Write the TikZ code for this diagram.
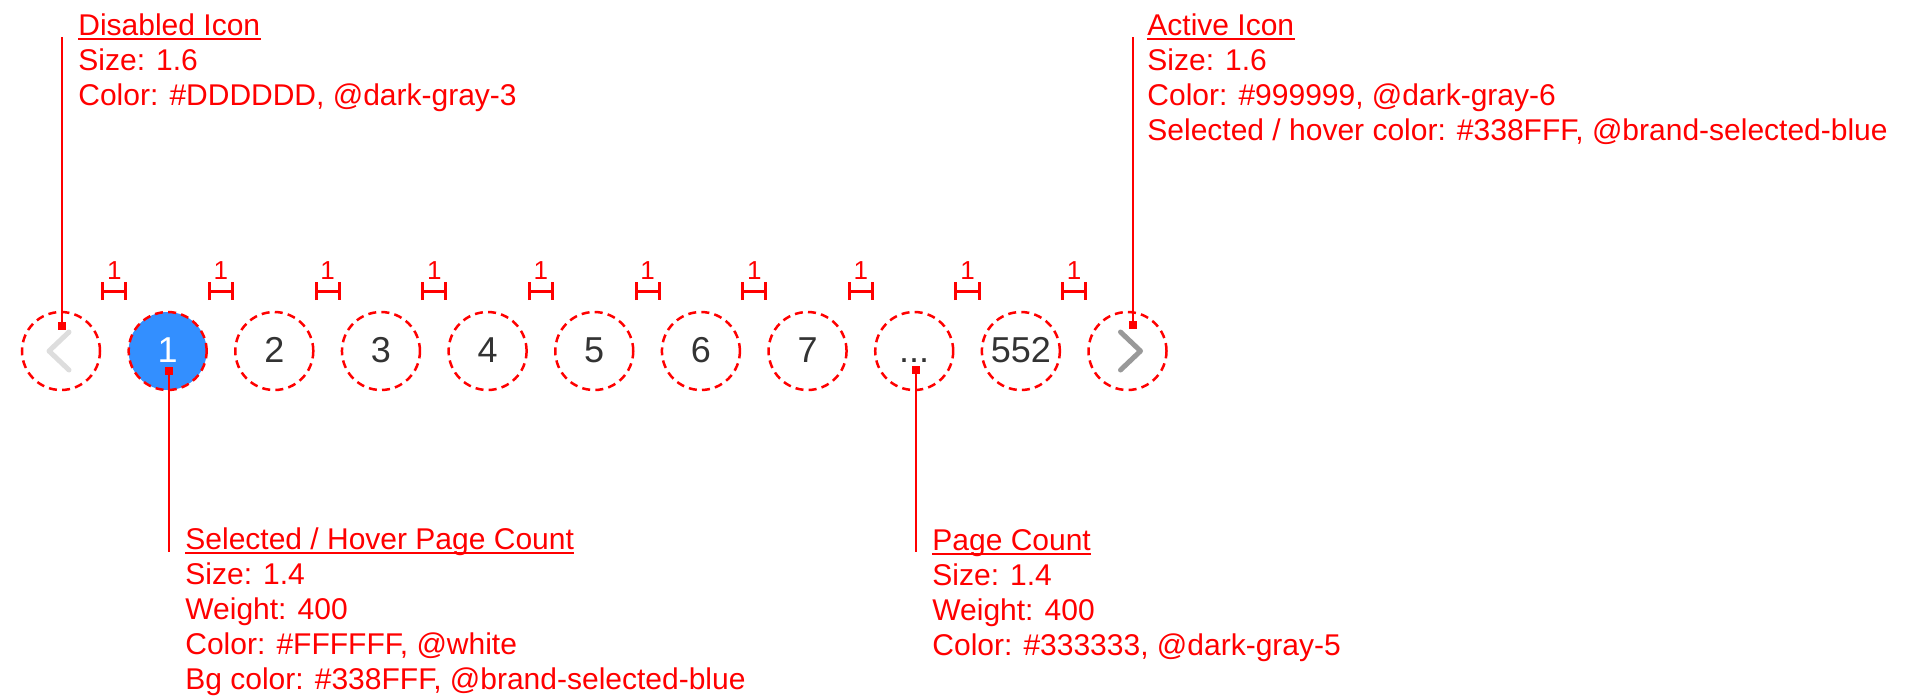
\documentclass[tikz,border=0pt]{standalone}
\usepackage{fontspec}
\setmainfont{Liberation Sans}
\usetikzlibrary{arrows.meta,calc}
\definecolor{annot}{HTML}{FF0000}
\definecolor{selblue}{HTML}{338FFF}
\definecolor{dgfive}{HTML}{333333}
\definecolor{dgthree}{HTML}{DDDDDD}
\definecolor{dgsix}{HTML}{999999}
\begin{document}
\begin{tikzpicture}[x=0.5pt,y=-0.5pt,
  page/.style={circle, minimum size=39pt, inner sep=0pt, draw=annot, line width=1.25pt, dash pattern=on 4pt off 2.6pt},
  num/.style={font=\fontsize{18}{20}\selectfont, text=dgfive, inner sep=0pt, anchor=base},
  lead/.style={draw=annot, line width=1.3pt},
  sq/.style={fill=annot, minimum size=3.8pt, inner sep=0pt},
  ann/.style={font=\fontsize{15}{18}\selectfont, text=annot, inner sep=0pt, anchor=base west},
  uline/.style={draw=annot, line width=0.9pt},
  dim/.style={draw=annot, line width=1.5pt, {Bar[width=9pt]}-{Bar[width=9pt]}},
  dimlab/.style={font=\fontsize{13}{15}\selectfont, text=annot, inner sep=0pt, anchor=base},
  chev/.style={line width=2.5pt, line cap=round, line join=round},
]
\useasboundingbox (0,0) rectangle (1914,698);
\coordinate (dimy) at (0,291);
\coordinate (basey) at (0,362);
% page circles
\node[page, fill=selblue] (c1) at (167.65,351) {};
\foreach \i in {0,2,3,4,5,6,7,8,9,10} {
  \pgfmathsetmacro\cx{61+106.65*\i}
  \node[page] (c\i) at (\cx,351) {};
}
% numbers
\node[num, text=white] (n1) at (c1 |- basey) {1};
\foreach \i in {2,3,4,5,6,7} {
  \node[num] (n\i) at (c\i |- basey) {\i};
}
\node[num] (n8) at (c8 |- basey) {...};
\node[num] (n9) at (c9 |- basey) {552};
% chevrons
\draw[chev, dgthree] ($(c0.center)+(8,-19)$) -- ($(c0.center)+(-12,0)$) -- ($(c0.center)+(8,19)$);
\draw[chev, dgsix] ($(c10.center)+(-7,-19)$) -- ($(c10.center)+(13,0)$) -- ($(c10.center)+(-7,19)$);
% spacing markers
\foreach \i in {0,...,9} {
  \pgfmathtruncatemacro\j{\i+1}
  \pgfmathsetmacro\mx{61+106.65*\i+53.325}
  \draw[dim] (c\i.east |- dimy) -- (c\j.west |- dimy);
  \node[dimlab] (d\i) at (\mx,279) {1};
}
% leaders
\node[sq] (s0) at (62,326) {};
\coordinate (t0) at (62,37);
\draw[lead] (s0.center) -- (t0);
\node[sq] (s1) at (169,371) {};
\coordinate (t1) at (169,552);
\draw[lead] (s1.center) -- (t1);
\node[sq] (s2) at (916,370) {};
\coordinate (t2) at (916,552);
\draw[lead] (s2.center) -- (t2);
\node[sq] (s3) at (1133,325) {};
\coordinate (t3) at (1133,37);
\draw[lead] (s3.center) -- (t3);
% top-left text
\node[ann] (h0) at (78,35) {Disabled Icon};
\draw[uline] ([yshift=-2pt]h0.base west) -- ([yshift=-2pt]h0.base east);
\node[ann] (a01) at (78,70) {Size: 1.6};
\node[ann] (a02) at (78,105) {Color: \#DDDDDD, @dark-gray-3};
% top-right text
\node[ann] (h3) at (1147,35) {Active Icon};
\draw[uline] ([yshift=-2pt]h3.base west) -- ([yshift=-2pt]h3.base east);
\node[ann] (a31) at (1147,70) {Size: 1.6};
\node[ann] (a32) at (1147,105) {Color: \#999999, @dark-gray-6};
\node[ann] (a33) at (1147,140) {Selected / hover color: \#338FFF, @brand-selected-blue};
% bottom-left text
\node[ann] (h1) at (185,549) {Selected / Hover Page Count};
\draw[uline] ([yshift=-2pt]h1.base west) -- ([yshift=-2pt]h1.base east);
\node[ann] (a11) at (185,584) {Size: 1.4};
\node[ann] (a12) at (185,619) {Weight: 400};
\node[ann] (a13) at (185,654) {Color: \#FFFFFF, @white};
\node[ann] (a14) at (185,689) {Bg color: \#338FFF, @brand-selected-blue};
% bottom-right text
\node[ann] (h2) at (932,550) {Page Count};
\draw[uline] ([yshift=-2pt]h2.base west) -- ([yshift=-2pt]h2.base east);
\node[ann] (a21) at (932,585) {Size: 1.4};
\node[ann] (a22) at (932,620) {Weight: 400};
\node[ann] (a23) at (932,655) {Color: \#333333, @dark-gray-5};
\end{tikzpicture}
\end{document}
